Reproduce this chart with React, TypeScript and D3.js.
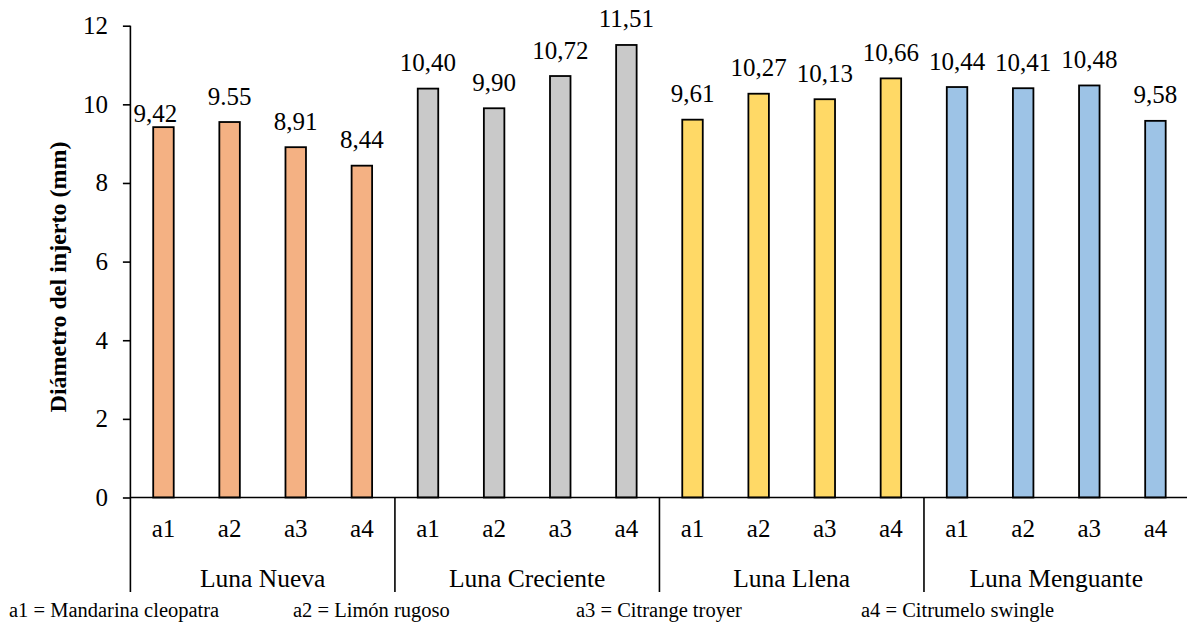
import React, { useEffect, useRef } from "react";
import * as d3 from "d3";

// Diámetro del injerto por fase lunar y patrón
const phases = ["Luna Nueva", "Luna Creciente", "Luna Llena", "Luna Menguante"];
const rootstocks = ["a1", "a2", "a3", "a4"];
const diameters = [
  [9.42, 9.55, 8.91, 8.44],
  [10.4, 9.9, 10.72, 11.51],
  [9.61, 10.27, 10.13, 10.66],
  [10.44, 10.41, 10.48, 9.58],
];
const valueLabels = [
  ["9,42", "9.55", "8,91", "8,44"],
  ["10,40", "9,90", "10,72", "11,51"],
  ["9,61", "10,27", "10,13", "10,66"],
  ["10,44", "10,41", "10,48", "9,58"],
];
const phaseColors = ["#F4B183", "#C9C9C9", "#FFD966", "#9DC3E6"];
const yTicks = [0, 2, 4, 6, 8, 10, 12];
const legendItems = [
  "a1 = Mandarina cleopatra",
  "a2 = Limón rugoso",
  "a3 = Citrange troyer",
  "a4 = Citrumelo swingle",
];

const W = 1187;
const H = 633;

export default function App() {
  const yAxisRef = useRef<SVGGElement>(null);

  const left = 130.4;
  const right = 1188.5;
  const y0 = 497.5;
  const yTop = 25.7;
  const groupBottom = 592;

  const rows = phases.flatMap((p, gi) =>
    rootstocks.map((r, ri) => ({
      key: `${gi}-${ri}`,
      phase: p,
      gi,
      root: r,
      value: diameters[gi][ri],
      label: valueLabels[gi][ri],
    }))
  );

  const x = d3
    .scaleBand<string>()
    .domain(rows.map((d) => d.key))
    .range([left, right])
    .paddingInner(0.69)
    .paddingOuter(0.345);

  const y = d3.scaleLinear().domain([0, 12]).range([y0, yTop]);

  const step = x.step();
  const groupWidth = step * rootstocks.length;

  useEffect(() => {
    if (!yAxisRef.current) return;
    const g = d3.select(yAxisRef.current);
    g.selectAll("*").remove();
    g.call(
      d3
        .axisLeft(y)
        .tickValues(yTicks)
        .tickSize(7.5)
        .tickPadding(15)
        .tickFormat((d) => String(d))
    );
    g.attr("font-family", null).attr("font-size", null);
    g.select(".domain").remove();
    g.selectAll(".tick line").attr("stroke", "#000").attr("stroke-width", 1.6);
    g.selectAll(".tick text").attr("class", "t25").attr("fill", "#000");
  }, []);

  // small manual nudge for the first data label
  const labelNudge: Record<string, [number, number]> = { "0-0": [-8, 12] };

  const css = `
    svg.chart text { font-family: "Liberation Serif", serif !important; fill: #000; }
    svg.chart .t25 { font-size: 25px; }
    svg.chart .t255 { font-size: 25.5px; }
    svg.chart .title { font-size: 24px; font-weight: bold; }
    svg.chart .legend { font-size: 20.5px; }
  `;

  return (
    <svg
      className="chart"
      width={W}
      height={H}
      style={{ position: "absolute", left: 0, top: 0, background: "#fff" }}
    >
      <style>{css}</style>
      <rect x={0} y={0} width={W} height={H} fill="#fff" />

      {/* bars */}
      {rows.map((d) => (
        <rect
          key={d.key}
          x={x(d.key)!}
          y={y(d.value)}
          width={x.bandwidth()}
          height={y0 - y(d.value)}
          fill={phaseColors[d.gi]}
          stroke="#000"
          strokeWidth={1.8}
        />
      ))}

      {/* value labels */}
      {rows.map((d) => {
        const [dx, dy] = labelNudge[d.key] || [0, 0];
        return (
          <text
            key={"v" + d.key}
            className="t25"
            x={x(d.key)! + x.bandwidth() / 2 + dx}
            y={y(d.value) - 17.5 + dy}
            textAnchor="middle"
          >
            {d.label}
          </text>
        );
      })}

      {/* y axis */}
      <g ref={yAxisRef} transform={`translate(${left},0)`} />
      <line x1={left} x2={left} y1={yTop} y2={groupBottom} stroke="#000" strokeWidth={1.6} />

      {/* x axis baseline */}
      <line x1={left} x2={right} y1={y0} y2={y0} stroke="#000" strokeWidth={1.6} />

      {/* group separators */}
      {phases.map((p, gi) => (
        <line
          key={"sep" + gi}
          x1={left + (gi + 1) * groupWidth}
          x2={left + (gi + 1) * groupWidth}
          y1={y0}
          y2={groupBottom}
          stroke="#000"
          strokeWidth={1.6}
        />
      ))}

      {/* category labels */}
      {rows.map((d) => (
        <text
          key={"c" + d.key}
          className="t25"
          x={x(d.key)! + x.bandwidth() / 2}
          y={537}
          textAnchor="middle"
        >
          {d.root}
        </text>
      ))}

      {/* phase labels */}
      {phases.map((p, gi) => (
        <text
          key={"p" + gi}
          className="t255"
          x={left + (gi + 0.5) * groupWidth}
          y={587}
          textAnchor="middle"
        >
          {p}
        </text>
      ))}

      {/* y axis title */}
      <text className="title" transform={`translate(66,277) rotate(-90)`} textAnchor="middle">
        Diámetro del injerto (mm)
      </text>

      {/* rootstock legend */}
      {legendItems.map((t, i) => (
        <text key={"l" + i} className="legend" x={[9, 293, 576, 861][i]} y={617}>
          {t}
        </text>
      ))}
    </svg>
  );
}
